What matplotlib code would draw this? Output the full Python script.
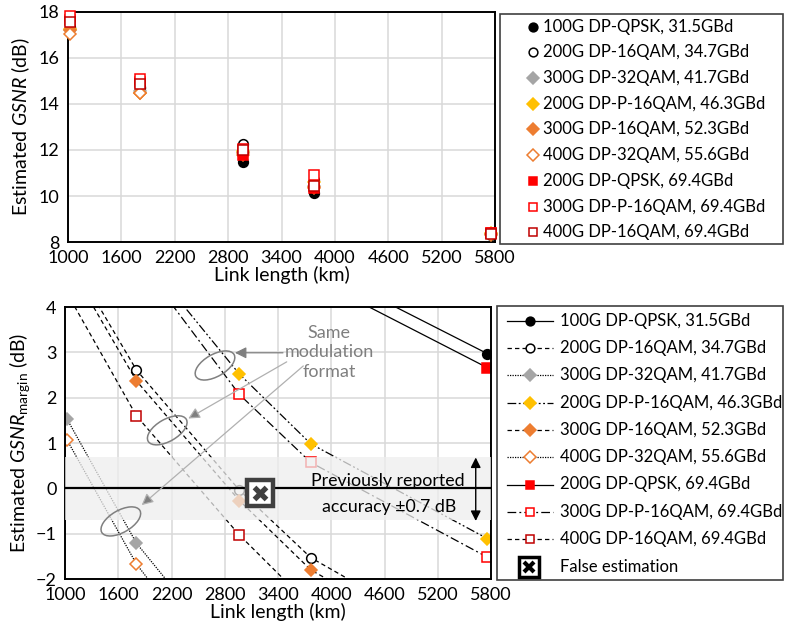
"""
Estimated GSNR and GSNR margin vs link length for several transceiver modes.
Two stacked panels, each with a hand-placed legend box on the right.
"""

import matplotlib.pyplot as plt
from matplotlib.lines import Line2D
from matplotlib.patches import Ellipse, Rectangle
from matplotlib.transforms import ScaledTranslation

plt.rcParams["font.family"] = ["Lato", "DejaVu Sans"]
plt.rcParams["mathtext.fontset"] = "custom"
plt.rcParams["mathtext.rm"] = "Lato"
plt.rcParams["mathtext.it"] = "Lato:italic"

OUT_PATH = "out.png"
W_PX, H_PX = 785, 635

# ---- data -----------------------------------------------------------------
LABELS = [
    "100G DP-QPSK, 31.5GBd",
    "200G DP-16QAM, 34.7GBd",
    "300G DP-32QAM, 41.7GBd",
    "200G DP-P-16QAM, 46.3GBd",
    "300G DP-16QAM, 52.3GBd",
    "400G DP-32QAM, 55.6GBd",
    "200G DP-QPSK, 69.4GBd",
    "300G DP-P-16QAM, 69.4GBd",
    "400G DP-16QAM, 69.4GBd",
]

LENGTH_KM = [1025, 1805, 2965, 3770, 5760]

# estimated GSNR (dB), top panel
GSNR_100G_QPSK = [17.30, 14.70, 11.46, 10.15, 8.30]
GSNR_200G_16QAM = [17.35, 14.75, 12.24, 10.70, 8.40]
GSNR_300G_32QAM = [17.20, 14.55, 11.90, 10.45, 8.35]
GSNR_200G_P16QAM = [17.25, 14.50, 11.95, 10.62, 8.40]
GSNR_300G_16QAM = [17.20, 14.46, 11.85, 10.40, 8.35]
GSNR_400G_32QAM = [17.05, 14.50, 11.80, 10.35, 8.30]
GSNR_200G_QPSK69 = [17.65, 14.95, 11.80, 10.36, 8.38]
GSNR_300G_P16QAM69 = [17.82, 15.07, 12.05, 10.90, 8.40]
GSNR_400G_16QAM69 = [17.55, 14.86, 12.00, 10.45, 8.35]

# estimated GSNR margin (dB), bottom panel
MARGIN_100G_QPSK = [12.1, 9.5, 6.26, 4.95, 2.97]
MARGIN_200G_16QAM = [5.2, 2.61, -0.04, -1.53, -3.75]
MARGIN_300G_32QAM = [1.52, -1.21, -4.0, -5.4, -7.5]
MARGIN_200G_P16QAM = [8.0, 5.3, 2.52, 0.98, -1.11]
MARGIN_300G_16QAM = [5.0, 2.37, -0.27, -1.80, -4.0]
MARGIN_400G_32QAM = [1.06, -1.67, -4.6, -6.0, -8.0]
MARGIN_200G_QPSK69 = [11.95, 9.25, 6.1, 4.66, 2.66]
MARGIN_300G_P16QAM69 = [7.9, 5.1, 2.07, 0.57, -1.52]
MARGIN_400G_16QAM69 = [4.3, 1.60, -1.03, -2.6, -4.6]

FALSE_EST_KM = 3197
FALSE_EST_DB = -0.1
ACCURACY_DB = 0.7

GSNR = [GSNR_100G_QPSK, GSNR_200G_16QAM, GSNR_300G_32QAM, GSNR_200G_P16QAM,
        GSNR_300G_16QAM, GSNR_400G_32QAM, GSNR_200G_QPSK69,
        GSNR_300G_P16QAM69, GSNR_400G_16QAM69]
MARGIN = [MARGIN_100G_QPSK, MARGIN_200G_16QAM, MARGIN_300G_32QAM,
          MARGIN_200G_P16QAM, MARGIN_300G_16QAM, MARGIN_400G_32QAM,
          MARGIN_200G_QPSK69, MARGIN_300G_P16QAM69, MARGIN_400G_16QAM69]

# ---- styles ---------------------------------------------------------------
DASHED = (0, (3.5, 2.5))
DOTTED = (0, (1, 1))
DASH_DOT = (0, (7, 2.5, 1.5, 2.5))
DASH_DOT_DOT = (0, (7, 2, 1.5, 2, 1.5, 2))

# marker, size, face, edge, linestyle
STYLES = [
    ("o", 7, "black", "black", "-"),
    ("o", 7, "white", "black", DASHED),
    ("D", 6.5, "#a5a5a5", "#a5a5a5", DOTTED),
    ("D", 6.5, "#ffc000", "#ffc000", DASH_DOT_DOT),
    ("D", 6.5, "#ed7d31", "#ed7d31", DASHED),
    ("D", 6.5, "white", "#ed7d31", DOTTED),
    ("s", 7, "#ff0000", "#ff0000", "-"),
    ("s", 7, "white", "#ff0000", DASH_DOT),
    ("s", 7, "white", "#c00000", DASHED),
]

FS_TICK = 13
FS_LABEL = 14
FS_LEG = 12
FS_NOTE = 12.8
GRID = "#d9d9d9"
ANNOT = "#7f7f7f"


def fx(px):
    return px / W_PX


def fy(py):
    return 1 - py / H_PX


def style_axes(ax, ylim, yticks):
    ax.set_xlim(1000, 5800)
    ax.set_xticks(range(1000, 5801, 600))
    ax.set_ylim(*ylim)
    ax.set_yticks(yticks)
    ax.grid(True, color=GRID, lw=1.1)
    ax.set_axisbelow(True)
    ax.tick_params(length=0, pad=6, labelsize=FS_TICK)
    for sp in ax.spines.values():
        sp.set_color("black")
        sp.set_linewidth(1.4)
    ax.set_xlabel("Link length (km)", fontsize=FS_LABEL, labelpad=0)


def legend_box(fig, x0, y0, x1, y1):
    fig.add_artist(Rectangle((fx(x0), fy(y1)), fx(x1) - fx(x0), fy(y0) - fy(y1),
                             transform=fig.transFigure, fill=False,
                             ec="#404040", lw=1.2))


def top_panel(fig):
    ax = fig.add_axes([fx(68), fy(242), fx(495) - fx(68), fy(12) - fy(242)])
    style_axes(ax, (8, 18), range(8, 19, 2))
    ax.set_ylabel(r"Estimated $GSNR$ (dB)", fontsize=FS_LABEL, labelpad=5)

    for i, vals in enumerate(GSNR):
        m, ms, fc, ec, _ = STYLES[i]
        ax.plot(LENGTH_KM, vals, ls="none", marker=m, ms=ms, mfc=fc, mec=ec,
                mew=1.1, zorder=3 + i * 0.1, clip_on=False)

    # legend
    legend_box(fig, 500, 14, 783, 244)
    for i, lab in enumerate(LABELS):
        y = fy(26.7 + 25.7 * i)
        m, ms, fc, ec, _ = STYLES[i]
        fig.add_artist(Line2D([fx(533)], [y], transform=fig.transFigure, ls="none",
                              marker=m, ms=ms * 0.9, mfc=fc, mec=ec, mew=1.1))
        fig.text(fx(543), y, lab, fontsize=FS_LEG, va="center", ha="left")


def ellipse_at(fig, ax, x, y, w_px, h_px, angle):
    trans = fig.dpi_scale_trans + ScaledTranslation(x, y, ax.transData)
    e = Ellipse((0, 0), w_px / fig.dpi, h_px / fig.dpi, angle=angle,
                transform=trans, fill=False, ec="#808080", lw=1.1, zorder=7)
    ax.add_artist(e)


def bottom_panel(fig):
    ax = fig.add_axes([fx(65), fy(579), fx(491) - fx(65), fy(307) - fy(579)])
    style_axes(ax, (-2, 4), range(-2, 5))
    ax.set_ylabel(r"Estimated $GSNR_{\mathrm{margin}}$ (dB)", fontsize=FS_LABEL,
                  labelpad=3)

    for i, vals in enumerate(MARGIN):
        m, ms, fc, ec, ls = STYLES[i]
        ax.plot(LENGTH_KM, vals, color="black", lw=0.9, ls=ls, marker=m, ms=ms,
                mfc=fc, mec=ec, mew=1.1, zorder=2)

    # previously reported accuracy band (drawn over the curves, semi-transparent)
    ax.axhspan(-ACCURACY_DB, ACCURACY_DB, color="#eeeeee", alpha=0.75, lw=0, zorder=3)
    ax.axhline(0, color="black", lw=1.6, zorder=4)
    ax.annotate("", xy=(5628, ACCURACY_DB - 0.02), xytext=(5628, -ACCURACY_DB - 0.02),
                arrowprops=dict(arrowstyle="<|-|>", color="black", lw=1,
                                mutation_scale=15, shrinkA=0, shrinkB=0), zorder=6)
    ax.text(4640, 0.17, "Previously reported", fontsize=FS_NOTE, ha="center",
            va="center", zorder=6)
    ax.text(4650, -0.41, "accuracy \u00b10.7 dB", fontsize=FS_NOTE, ha="center",
            va="center", zorder=6)

    # false estimation
    ax.plot([FALSE_EST_KM], [FALSE_EST_DB], marker="s", ms=18.5, mfc="white",
            mec="#404040", mew=3.2, zorder=8)
    ax.plot([FALSE_EST_KM], [FALSE_EST_DB], marker="x", ms=9, mew=3.8,
            color="#404040", zorder=9)

    # "same modulation format" annotation
    ax.text(3975, 3.0, "Same\nmodulation\nformat", color=ANNOT, fontsize=13,
            ha="center", va="center", linespacing=1.25, zorder=6)
    ellipse_at(fig, ax, 2690, 2.71, 44, 22, 30)
    ellipse_at(fig, ax, 2152, 1.28, 44, 22, 30)
    ellipse_at(fig, ax, 1629, -0.73, 44, 22, 30)
    arrows = [((3456, 2.99), (2915, 2.99), ANNOT),
              ((3498, 2.79), (2389, 1.54), "#b0b0b0"),
              ((3685, 2.70), (1864, -0.37), "#b0b0b0")]
    for start, end, lc in arrows:
        ax.annotate("", xy=end, xytext=start, zorder=7,
                    arrowprops=dict(arrowstyle="-|>", ec=lc, fc=ANNOT, lw=0.9,
                                    mutation_scale=17, shrinkA=0, shrinkB=0))

    # legend
    legend_box(fig, 497, 306, 783, 580)
    for i, lab in enumerate(LABELS):
        y = fy(320.7 + 27.3 * i)
        m, ms, fc, ec, ls = STYLES[i]
        fig.add_artist(Line2D([fx(507), fx(553)], [y, y], transform=fig.transFigure,
                              color="black", lw=0.9, ls=ls))
        fig.add_artist(Line2D([fx(530)], [y], transform=fig.transFigure, ls="none",
                              marker=m, ms=ms * 0.9, mfc=fc, mec=ec, mew=1.1))
        fig.text(fx(560), y, lab, fontsize=FS_LEG, va="center", ha="left")
    y = fy(566.7)
    fig.add_artist(Line2D([fx(529)], [y], transform=fig.transFigure, ls="none",
                          marker="s", ms=15, mfc="white", mec="black", mew=2.5))
    fig.add_artist(Line2D([fx(529)], [y], transform=fig.transFigure, ls="none",
                          marker="x", ms=7.5, mew=3, color="black"))
    fig.text(fx(560), y, "False estimation", fontsize=FS_LEG, va="center", ha="left")


def main():
    fig = plt.figure(figsize=(W_PX / 100, H_PX / 100), dpi=100)
    top_panel(fig)
    bottom_panel(fig)
    fig.savefig(OUT_PATH, dpi=100)


if __name__ == "__main__":
    main()
